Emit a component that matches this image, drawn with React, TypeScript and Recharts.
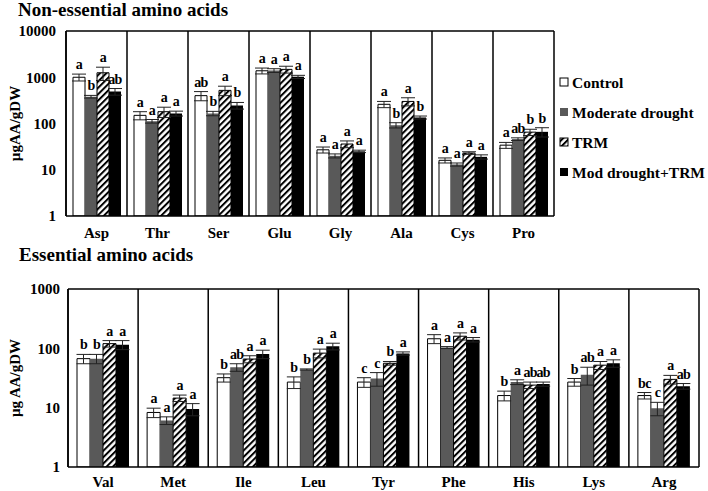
import React from 'react';
import { BarChart, Bar, XAxis, YAxis, ErrorBar, LabelList, ReferenceLine, CartesianGrid } from 'recharts';

const FONT = '"Liberation Serif", "Times New Roman", serif';

const seriesNames = ['Control', 'Moderate drought', 'TRM', 'Mod drought+TRM'];

// Non-essential amino acids (µg AA / g DW)
const neCategories = ['Asp', 'Thr', 'Ser', 'Glu', 'Gly', 'Ala', 'Cys', 'Pro'];
const neControl = [1000, 150, 400, 1380, 27, 260, 16, 34];
const neDrought = [380, 112, 165, 1400, 20, 92, 13, 46];
const neTrm = [1250, 180, 520, 1480, 36, 300, 23, 65];
const neModTrm = [490, 165, 245, 1020, 25, 135, 19, 66];
const neControlErr = [170, 30, 90, 200, 4, 40, 2, 5];
const neDroughtErr = [25, 10, 18, 130, 2, 12, 1, 3];
const neTrmErr = [400, 45, 120, 250, 6, 60, 1.5, 10];
const neModTrmErr = [80, 20, 40, 80, 1.5, 10, 2, 15];
const neControlSig = ['a', 'a', 'ab', 'a', 'a', 'a', 'a', 'a'];
const neDroughtSig = ['b', 'a', 'b', 'a', 'a', 'b', 'a', 'ab'];
const neTrmSig = ['a', 'a', 'a', 'a', 'a', 'a', 'a', 'b'];
const neModTrmSig = ['ab', 'a', 'b', 'a', 'a', 'b', 'a', 'b'];

// Essential amino acids
const eCategories = ['Val', 'Met', 'Ile', 'Leu', 'Tyr', 'Phe', 'His', 'Lys', 'Arg'];
const eControl = [67, 8.3, 32, 27, 27, 145, 16, 27, 16];
const eDrought = [67, 6.1, 48, 44, 31, 103, 27, 36, 9.8];
const eTrm = [120, 14.5, 66, 83, 56, 160, 24, 52, 30];
const eModTrm = [115, 9.5, 80, 108, 82, 140, 25, 56, 23];
const eControlErr = [12, 1.5, 5, 6, 5, 25, 3, 4, 2];
const eDroughtErr = [12, 0.9, 7, 1, 8, 4, 2.5, 12, 2.5];
const eTrmErr = [15, 1.8, 9, 14, 4, 22, 3, 8, 5];
const eModTrmErr = [20, 2.2, 13, 14, 5, 12, 2, 8, 2.5];
const eControlSig = ['b', 'a', 'b', 'b', 'c', 'a', 'b', 'b', 'bc'];
const eDroughtSig = ['b', 'a', 'ab', 'b', 'c', 'a', 'a', 'ab', 'c'];
const eTrmSig = ['a', 'a', 'a', 'a', 'b', 'a', 'ab', 'a', 'a'];
const eModTrmSig = ['a', 'a', 'a', 'a', 'a', 'a', 'ab', 'a', 'ab'];

const seriesKeys = ['c', 'd', 't', 'm'];
const seriesFill = ['#ffffff', '#595959', 'url(#hatch)', '#000000'];
const seriesStroke = ['#000000', 'none', '#000000', 'none'];

const buildRows = (cats: string[], vals: number[][], errs: number[][]) =>
  cats.map((name, i) => {
    const row: any = { name };
    seriesKeys.forEach((k, s) => {
      row[k] = vals[s][i];
      row[k + 'Err'] = errs[s][i];
    });
    return row;
  });

const neRows = buildRows(
  neCategories,
  [neControl, neDrought, neTrm, neModTrm],
  [neControlErr, neDroughtErr, neTrmErr, neModTrmErr]
);
const eRows = buildRows(
  eCategories,
  [eControl, eDrought, eTrm, eModTrm],
  [eControlErr, eDroughtErr, eTrmErr, eModTrmErr]
);

const textStyle = { fontFamily: FONT, fontWeight: 'bold' as const, fontSize: 15, fill: '#000' };

const renderYLabel = (text: string) => (props: any) => {
  const vb = props.viewBox || {};
  const cx = vb.x + 15;
  const cy = vb.y + vb.height / 2;
  return (
    <text x={cx} y={cy} transform={`rotate(-90 ${cx} ${cy})`} textAnchor="middle" dominantBaseline="central" style={textStyle}>
      {text}
    </text>
  );
};

// significance letter sitting above the error bar
const sigLabel = (sig: string[], vals: number[], errs: number[], decadePx: number) => (props: any) => {
  const vb = props.viewBox && props.viewBox.width !== undefined ? props.viewBox : props;
  const x = vb.x;
  const y = vb.y;
  const w = vb.width;
  const i = props.index;
  if (i === undefined || x === undefined) return null;
  const v = vals[i];
  const e = errs[i];
  const top = y - decadePx * Math.log10((v + e) / v);
  return (
    <text x={x + w / 2} y={top - 5} textAnchor="middle" style={{ ...textStyle, fontSize: 14, letterSpacing: -0.7 }}>
      {sig[i]}
    </text>
  );
};

// vertical separators at the category band edges
const sepGenerator = (n: number) => ({ offset }: any) =>
  Array.from({ length: n + 1 }, (_, i) => offset.left + (offset.width * i) / n);

interface PanelProps {
  rows: any[];
  vals: number[][];
  errs: number[][];
  sigs: string[][];
  width: number;
  height: number;
  margin: { top: number; right: number; bottom: number; left: number };
  yWidth: number;
  xHeight: number;
  yMax: number;
  yTicks: number[];
  yTickMargin: number;
  xTickMargin: number;
  gap: number;
  yLabel: string;
}

const Panel = ({ rows, vals, errs, sigs, width, height, margin, yWidth, xHeight, yMax, yTicks, yTickMargin, xTickMargin, gap, yLabel }: PanelProps) => {
  const n = rows.length;
  const plotH = height - margin.top - margin.bottom - xHeight;
  const decadePx = plotH / Math.log10(yMax);
  return (
    <BarChart width={width} height={height} data={rows} margin={margin} barCategoryGap={gap} barGap={0}>
      <CartesianGrid horizontal={false} stroke="#000" strokeWidth={1.5} verticalCoordinatesGenerator={sepGenerator(n)} />
      <XAxis
        dataKey="name"
        interval={0}
        height={xHeight}
        tickLine={false}
        tickMargin={xTickMargin}
        axisLine={{ stroke: '#000', strokeWidth: 1.5 }}
        tick={textStyle}
      />
      <YAxis
        type="number"
        scale="log"
        domain={[1, yMax]}
        ticks={yTicks}
        allowDataOverflow
        width={yWidth}
        tickLine={false}
        tickMargin={yTickMargin}
        axisLine={{ stroke: '#000', strokeWidth: 1.5 }}
        tick={textStyle}
        label={{ content: renderYLabel(yLabel) }}
      />
      <ReferenceLine y={yMax} stroke="#000" strokeWidth={1.5} />
      {seriesKeys.map((k, s) => (
        <Bar key={k} dataKey={k} name={seriesNames[s]} fill={seriesFill[s]} stroke={seriesStroke[s]} strokeWidth={1} isAnimationActive={false}>
          <ErrorBar dataKey={k + 'Err'} width={7} stroke="#222" strokeWidth={1} direction="y" />
          <LabelList dataKey={k} content={sigLabel(sigs[s], vals[s], errs[s], decadePx)} />
        </Bar>
      ))}
    </BarChart>
  );
};

const legendTop = [88, 118, 148, 178];

export default function App() {
  return (
    <div style={{ position: 'absolute', left: 0, top: 0, width: 708, height: 491, background: '#fff' }}>
      <svg width={0} height={0} style={{ position: 'absolute' }}>
        <defs>
          <pattern id="hatch" patternUnits="userSpaceOnUse" width="4.5" height="4.5" patternTransform="rotate(45)">
            <rect width="4.5" height="4.5" fill="#fff" />
            <rect x="0" y="0" width="2" height="4.5" fill="#000" />
          </pattern>
        </defs>
      </svg>
      <div style={{ position: 'absolute', left: 0, top: 0 }}>
        <Panel
          rows={neRows}
          vals={[neControl, neDrought, neTrm, neModTrm]}
          errs={[neControlErr, neDroughtErr, neTrmErr, neModTrmErr]}
          sigs={[neControlSig, neDroughtSig, neTrmSig, neModTrmSig]}
          width={560}
          height={250}
          margin={{ top: 31, right: 6, bottom: 4, left: 0 }}
          yWidth={66}
          xHeight={30}
          yMax={10000}
          yTicks={[1, 10, 100, 1000, 10000]}
          yTickMargin={4}
          xTickMargin={5}
          gap={7}
          yLabel="µgAA/gDW"
        />
      </div>
      <div style={{ position: 'absolute', left: 0, top: 260 }}>
        <Panel
          rows={eRows}
          vals={[eControl, eDrought, eTrm, eModTrm]}
          errs={[eControlErr, eDroughtErr, eTrmErr, eModTrmErr]}
          sigs={[eControlSig, eDroughtSig, eTrmSig, eModTrmSig]}
          width={708}
          height={231}
          margin={{ top: 29, right: 9, bottom: 2, left: 0 }}
          yWidth={68}
          xHeight={22}
          yMax={1000}
          yTicks={[1, 10, 100, 1000]}
          yTickMargin={2}
          xTickMargin={3}
          gap={9}
          yLabel="µg AA/gDW"
        />
      </div>
      <svg width={708} height={491} style={{ position: 'absolute', left: 0, top: 0, pointerEvents: 'none' }}>
        <text x={18} y={16} style={{ ...textStyle, fontSize: 19 }}>Non-essential amino acids</text>
        <text x={19} y={261} style={{ ...textStyle, fontSize: 19 }}>Essential amino acids</text>
        {seriesNames.map((name, s) => (
          <g key={name}>
            <rect
              x={560}
              y={legendTop[s] - 10}
              width={8}
              height={8}
              fill={seriesFill[s]}
              stroke={seriesStroke[s] === 'none' ? 'none' : '#000'}
              strokeWidth={1}
            />
            <text x={572} y={legendTop[s]} style={{ ...textStyle, fontSize: 15.5 }}>{name}</text>
          </g>
        ))}
      </svg>
    </div>
  );
}
